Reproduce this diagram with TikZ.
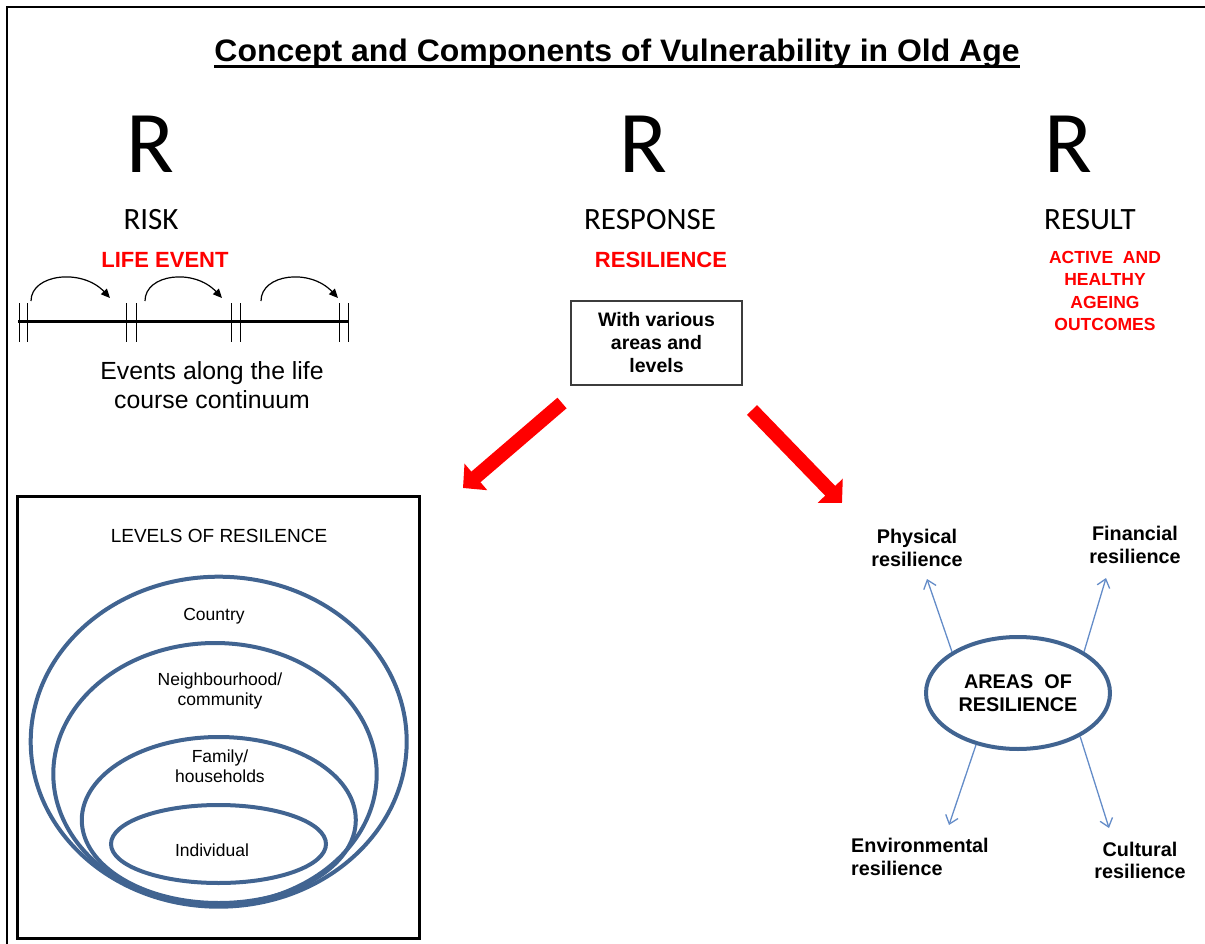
\documentclass[tikz,border=0pt]{standalone}
\usepackage{fontspec}
\setmainfont{Liberation Sans}
\newfontfamily\calibrifont{Carlito}
\usetikzlibrary{
    arrows.meta,
    shapes.geometric,
    positioning
}
\definecolor{ringblue}{RGB}{65,100,145}
\definecolor{linkblue}{RGB}{100,140,200}
\definecolor{alertred}{RGB}{255,0,0}
\definecolor{boxgray}{RGB}{60,60,60}
\tikzset{
    txt/.style={inner sep=0pt, anchor=base, align=center},
    bigletter/.style={txt, font=\calibrifont\fontsize{88}{88}\selectfont},
    stage/.style={txt, font=\calibrifont\fontsize{31}{31}\selectfont},
    redlabel/.style={txt, text=alertred, font=\bfseries\fontsize{22}{26}\selectfont},
    outcome/.style={inner sep=0pt, align=center, text=alertred, font=\bfseries\fontsize{17.5}{22.5}\selectfont},
    plain/.style={inner sep=0pt, align=center, font=\fontsize{24.8}{29}\selectfont},
    boxlabel/.style={align=center, font=\bfseries\fontsize{19.5}{23}\selectfont},
    levellabel/.style={inner sep=0pt, align=center, font=\fontsize{17.5}{20}\selectfont},
    arealabel/.style={inner sep=0pt, align=center, font=\bfseries\fontsize{19.8}{22.5}\selectfont},
    ring/.style={draw=ringblue, line width=4pt},
    hop/.style={line width=1.2pt, -{Triangle[length=9pt, width=8pt]}},
    bigarrow/.style={draw=alertred, line width=14pt, -{Triangle[length=17pt, width=34pt]}},
    arealink/.style={draw=linkblue, line width=1.3pt, -{Straight Barb[length=8pt, width=13pt]}}
}
\begin{document}
\begin{tikzpicture}[x=1pt, y=-1pt]
    \useasboundingbox (0,0) rectangle (1205,944);
    \draw[line width=2.5pt] (7,944) -- (7,7) -- (1205,7);

    % title
    \node[txt] (title) at (617,62) {\resizebox{805pt}{22.5pt}{\bfseries Concept and Components of Vulnerability in Old Age}};
    \draw[line width=2.5pt] ([yshift=-4.3pt]title.base west) -- ([yshift=-4.3pt]title.base east);

    % the three R
    \node[bigletter] (riskR) at (150,173) {R};
    \node[bigletter] (responseR) at (643,173) {R};
    \node[bigletter] (resultR) at (1068,173) {R};
    \node[stage] (risk) at (151,230) {RISK};
    \node[stage] (response) at (650,230) {RESPONSE};
    \node[stage] (result) at (1090,230) {RESULT};
    \node[redlabel] (lifeevent) at (165,267) {LIFE EVENT};
    \node[redlabel] (resilience) at (661,268) {RESILIENCE};
    \node[outcome] (outcomes) at (1105,291) {ACTIVE\ \ AND\\HEALTHY\\AGEING\\OUTCOMES};

    % life course line
    \draw[line width=3pt] (18,321) -- (348,321);
    \foreach \tx in {19,27,126,136,231,240,339,348}
        \draw[line width=1pt] (\tx,303) -- (\tx,342);
    \foreach \sx/\ex in {31/110, 145/222, 261/338}
        \draw[hop] (\sx,301) .. controls (\sx,274) and ({\ex-28},268) .. (\ex,298);
    \node[plain] (events) at (212,385) {Events along the life\\course continuum};

    % response box and red arrows
    \node[draw=boxgray, line width=1.2pt, minimum width=171pt, minimum height=84pt, inner sep=0pt, boxlabel] (areasbox) at (656.5,343) {With various\\areas and\\levels};
    \coordinate (levelsTail) at (562,403);
    \coordinate (levelsTip) at (463,488);
    \coordinate (areasTail) at (752,410);
    \coordinate (areasTip) at (842,503);
    \draw[bigarrow] (levelsTail) -- (levelsTip);
    \draw[bigarrow] (areasTail) -- (areasTip);

    % levels of resilence
    \node[draw, line width=3pt, minimum width=402pt, minimum height=442pt, inner sep=0pt] (levelsbox) at (218.5,717) {};
    \node[levellabel, anchor=base, font=\fontsize{19}{20}\selectfont] (levelstitle) at (219,542) {LEVELS OF RESILENCE};
    \draw[ring] (218.7,741.7) ellipse [x radius=188, y radius=165];
    \draw[ring] (215,774) ellipse [x radius=161.7, y radius=131];
    \draw[ring] (218.8,820) ellipse [x radius=137, y radius=83];
    \draw[ring] (218.5,844) ellipse [x radius=107.5, y radius=39];
    \node[levellabel, anchor=base] (country) at (214,620) {Country};
    \node[levellabel] (neighbourhood) at (220,691) {Neighbourhood/\\community};
    \node[levellabel] (family) at (220,766) {Family/\\households};
    \node[levellabel, anchor=base] (individual) at (212,856) {Individual};

    % areas of resilience
    \node[ring, ellipse, minimum width=184pt, minimum height=112pt, inner sep=0pt, arealabel] (areas) at (1018,693) {AREAS\ \ OF\\RESILIENCE};
    \node[arealabel] (physical) at (917,548) {Physical\\resilience};
    \node[arealabel] (financial) at (1135,545) {Financial\\resilience};
    \node[arealabel, anchor=west, align=left] (environmental) at (851,857) {Environmental\\resilience};
    \node[arealabel] (cultural) at (1140,860.5) {Cultural\\resilience};
    \coordinate (physTip) at (927,579);
    \coordinate (finTip) at (1106,578);
    \coordinate (envTip) at (949,825);
    \coordinate (culTip) at (1109,828);

    \draw
    (areas.148) edge[arealink] (physTip)
    (areas.32) edge[arealink] (finTip)
    (areas.231) edge[arealink] (envTip)
    (areas.325) edge[arealink] (culTip);
\end{tikzpicture}
\end{document}
